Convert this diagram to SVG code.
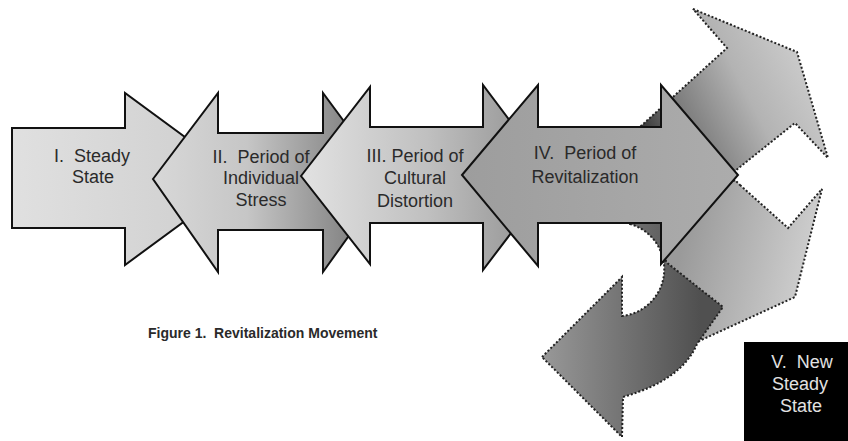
<svg xmlns="http://www.w3.org/2000/svg" width="848" height="441" viewBox="0 0 848 441">
<style>
.blk{stroke:#111;stroke-width:2;stroke-linejoin:miter}
.dot{stroke:#222;stroke-width:2;stroke-dasharray:2 2}
.lbl{font-family:"Liberation Sans",Arial,sans-serif;font-size:18px;fill:#2a2a2a;text-anchor:middle;white-space:pre}
.cap{font-family:"Liberation Sans",Arial,sans-serif;font-size:14px;font-weight:bold;fill:#2a2a2a;white-space:pre}
</style>
<defs>
<linearGradient id="g1" gradientUnits="userSpaceOnUse" x1="12" y1="0" x2="242" y2="0"><stop offset="0" stop-color="#e0e0e0"/><stop offset="1" stop-color="#cdcdcd"/></linearGradient>
<linearGradient id="g2" gradientUnits="userSpaceOnUse" x1="153" y1="0" x2="388" y2="0"><stop offset="0" stop-color="#d8d8d8"/><stop offset="0.4" stop-color="#c6c6c6"/><stop offset="1" stop-color="#6c6c6c"/></linearGradient>
<linearGradient id="g3" gradientUnits="userSpaceOnUse" x1="301" y1="0" x2="553" y2="0"><stop offset="0" stop-color="#e2e2e2"/><stop offset="0.5" stop-color="#c0c0c0"/><stop offset="1" stop-color="#8c8c8c"/></linearGradient>
<linearGradient id="g4" gradientUnits="userSpaceOnUse" x1="462" y1="0" x2="738" y2="0"><stop offset="0" stop-color="#9d9d9d"/><stop offset="1" stop-color="#acacac"/></linearGradient>
<linearGradient id="gUp" gradientUnits="userSpaceOnUse" x1="815" y1="35" x2="642" y2="125"><stop offset="0" stop-color="#d2d2d2"/><stop offset="0.45" stop-color="#b3b3b3"/><stop offset="0.8" stop-color="#7a7a7a"/><stop offset="1" stop-color="#3a3a3a"/></linearGradient>
<linearGradient id="gRt" gradientUnits="userSpaceOnUse" x1="820" y1="240" x2="690" y2="210"><stop offset="0" stop-color="#d0d0d0"/><stop offset="1" stop-color="#9a9a9a"/></linearGradient>
<linearGradient id="gDk" gradientUnits="userSpaceOnUse" x1="545" y1="0" x2="700" y2="0"><stop offset="0" stop-color="#979797"/><stop offset="1" stop-color="#505050"/></linearGradient>
</defs>
<rect width="848" height="441" fill="#fff"/>
<g id="connectors">
<path class="dot" fill="url(#gUp)" d="M693,9 L797,52 L828,158 L795,123 L740,167 L700,200 L620,200 L620,145 L727,48 Z"/>
<path class="dot" fill="url(#gRt)" d="M740,185 L788,228 L822,189 L795,297 L697,342 L708,322 L664,262 L664,235 L700,200 L735,180 Z"/>
<path class="dot" fill="url(#gDk)" d="M542,357 L622,277 L622,316 A47,47 0 0 0 630,224 L628,205 L664,205 L666,262 L723,307 L697,344 Q682,380 623,397 L622,437 Z"/>
</g>
<g id="n1">
<path class="blk" fill="url(#g1)" d="M12,128 L125,128 L125,93 L242,179 L125,265 L125,228 L12,228 Z"/>
<text class="lbl" x="92" y="162">I.  Steady</text>
<text class="lbl" x="93" y="183">State</text>
</g>
<g id="n2">
<path class="blk" fill="url(#g2)" d="M153,179 L218,93 L218,133 L323,133 L323,93 L388,181 L323,272 L323,230 L218,230 L218,272 Z"/>
<text class="lbl" x="261" y="163">II.  Period of</text>
<text class="lbl" x="261" y="184">Individual</text>
<text class="lbl" x="261" y="206">Stress</text>
</g>
<g id="n3">
<path class="blk" fill="url(#g3)" d="M301,176 L370,87 L370,127 L483,127 L483,85 L553,178 L483,270 L483,223 L370,223 L370,264 Z"/>
<text class="lbl" x="415" y="162">III. Period of</text>
<text class="lbl" x="415" y="184">Cultural</text>
<text class="lbl" x="415" y="207">Distortion</text>
</g>
<g id="n4">
<path class="blk" fill="url(#g4)" d="M462,175 L538,85 L538,127 L661,127 L661,85 L738,175 L661,264 L661,223 L538,223 L538,266 Z"/>
<text class="lbl" x="585" y="159">IV.  Period of</text>
<text class="lbl" x="585" y="183">Revitalization</text>
</g>
<g id="n5">
<rect x="744" y="342" width="104" height="99" fill="#000"/>
<text class="lbl" x="802" y="368" style="fill:#e2e2e2">V.  New</text>
<text class="lbl" x="800" y="390" style="fill:#e2e2e2">Steady</text>
<text class="lbl" x="801" y="412" style="fill:#e2e2e2">State</text>
</g>
<text class="cap" x="148" y="338">Figure 1.  Revitalization Movement</text>
</svg>
